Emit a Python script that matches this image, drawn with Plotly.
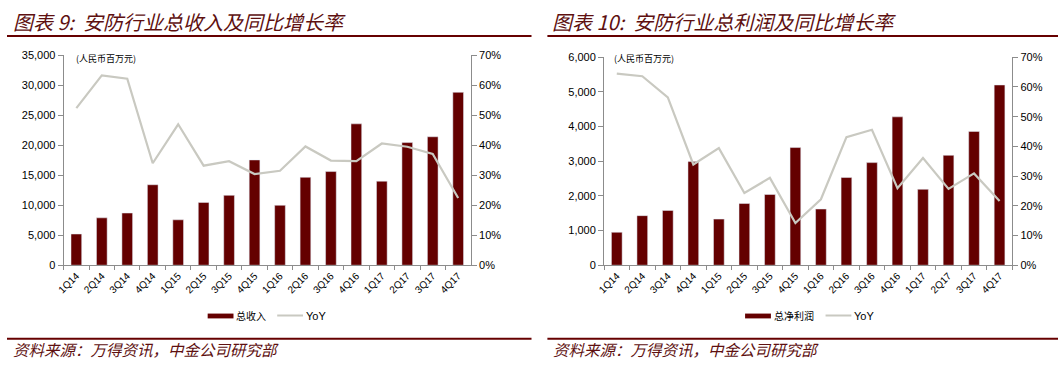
import plotly.graph_objects as go

quarters = ["1Q14", "2Q14", "3Q14", "4Q14", "1Q15", "2Q15", "3Q15", "4Q15",
            "1Q16", "2Q16", "3Q16", "4Q16", "1Q17", "2Q17", "3Q17", "4Q17"]

revenue = [5200, 7900, 8700, 13420, 7570, 10470, 11650, 17550,
           9990, 14660, 15620, 23570, 14010, 20450, 21420, 28830]
revenue_yoy = [52.4, 63.3, 62.2, 34.0, 47.0, 33.2, 34.7, 30.4,
               31.5, 39.6, 34.9, 34.7, 40.6, 39.5, 37.1, 22.4]

profit = [950, 1430, 1580, 2990, 1330, 1780, 2040, 3395,
          1620, 2530, 2960, 4280, 2190, 3170, 3860, 5200]
profit_yoy = [64.5, 63.6, 56.5, 33.9, 39.4, 24.3, 29.4, 14.2,
              22.2, 43.1, 45.6, 25.9, 36.1, 25.7, 30.9, 21.6]

title_left = "图表 9:  安防行业总收入及同比增长率"
title_right = "图表 10:  安防行业总利润及同比增长率"
source_text = "资料来源：万得资讯，中金公司研究部"
unit_text = "(人民币百万元)"
bar_name_left = "总收入"
bar_name_right = "总净利润"
line_name = "YoY"

W, H = 1058, 366
BAR = "#640000"
LINE = "#c9c9c1"
AX = "#8c8c8c"
TXT_FONT = "Liberation Sans, Arial, sans-serif"
CJK = "Noto Sans CJK SC"
TITLE_C = "#5e1010"


def px(x):
    return x / W


def py(y):
    return 1 - y / H


fig = go.Figure()

fig.add_trace(go.Bar(x=quarters, y=revenue, marker_color=BAR, xaxis="x", yaxis="y",
                     showlegend=False, name=bar_name_left))
fig.add_trace(go.Scatter(x=quarters, y=revenue_yoy, mode="lines", line=dict(color=LINE, width=2.2),
                         xaxis="x", yaxis="y2", showlegend=False, name=line_name))
fig.add_trace(go.Bar(x=quarters, y=profit, marker_color=BAR, xaxis="x2", yaxis="y3",
                     showlegend=False, name=bar_name_right))
fig.add_trace(go.Scatter(x=quarters, y=profit_yoy, mode="lines", line=dict(color=LINE, width=2.2),
                         xaxis="x2", yaxis="y4", showlegend=False, name=line_name))

xcommon = dict(type="category", showline=True, linecolor=AX, linewidth=1, ticks="outside",
               tickson="boundaries", ticklen=4, tickcolor=AX, tickangle=-45,
               tickfont=dict(family=TXT_FONT, size=10, color="black"), showgrid=False,
               zeroline=False, fixedrange=True)
ycommon = dict(showline=True, linecolor=AX, linewidth=1, ticks="outside", ticklen=5, tickcolor=AX,
               tickfont=dict(family=TXT_FONT, size=11, color="black"), showgrid=False,
               zeroline=False)

fig.update_layout(
    width=W, height=H,
    margin=dict(l=0, r=0, t=0, b=0),
    paper_bgcolor="white", plot_bgcolor="white",
    bargap=0.58,
    xaxis=dict(domain=[px(57), px(467)], anchor="y", **xcommon),
    yaxis=dict(domain=[py(268), py(51)], range=[0, 35000], dtick=5000, tickformat=",",
               anchor="x", **ycommon),
    yaxis2=dict(range=[0, 70], dtick=10, ticksuffix="%", overlaying="y", side="right",
                anchor="x", **ycommon),
    xaxis2=dict(domain=[px(601), px(1012)], anchor="y3", **xcommon),
    yaxis3=dict(domain=[py(268), py(53)], range=[0, 6000], dtick=1000, tickformat=",",
                anchor="x2", **ycommon),
    yaxis4=dict(range=[0, 70], dtick=10, ticksuffix="%", overlaying="y3", side="right",
                anchor="x2", **ycommon),
    showlegend=False,
)

shapes = []
annotations = []

# header/footer rules
for x0, x1 in [(0, 528), (544, 1058)]:
    for y in (31, 344):
        shapes.append(dict(type="line", xref="paper", yref="paper", x0=px(x0), x1=px(x1),
                           y0=py(y), y1=py(y), line=dict(color="#660000", width=2)))

# titles
for x, t in [(4, title_left), (547, title_right)]:
    annotations.append(dict(text=t, xref="paper", yref="paper", x=px(x), y=py(16),
                            xanchor="left", yanchor="middle", showarrow=False,
                            font=dict(family=CJK, size=20, color=TITLE_C, style="italic")))
# sources
for x in (4, 548):
    annotations.append(dict(text=source_text, xref="paper", yref="paper", x=px(x), y=py(355),
                            xanchor="left", yanchor="middle", showarrow=False,
                            font=dict(family=CJK, size=15.5, color=TITLE_C, style="italic")))
# unit labels
for x in (67, 609):
    annotations.append(dict(text=unit_text, xref="paper", yref="paper", x=px(x), y=py(54),
                            xanchor="left", yanchor="middle", showarrow=False,
                            font=dict(family=CJK, size=9, color="black")))

# legends
def legend(xbar, bar_label, xline):
    shapes.append(dict(type="rect", xref="paper", yref="paper", x0=px(xbar), x1=px(xbar + 26),
                       y0=py(323), y1=py(318), fillcolor=BAR, line=dict(width=0)))
    annotations.append(dict(text=bar_label, xref="paper", yref="paper", x=px(xbar + 27), y=py(320.5),
                            xanchor="left", yanchor="middle", showarrow=False,
                            font=dict(family=CJK, size=10, color="black")))
    shapes.append(dict(type="line", xref="paper", yref="paper", x0=px(xline), x1=px(xline + 26),
                       y0=py(320), y1=py(320), line=dict(color=LINE, width=2)))
    annotations.append(dict(text=line_name, xref="paper", yref="paper", x=px(xline + 27), y=py(320),
                            xanchor="left", yanchor="middle", showarrow=False,
                            font=dict(family=TXT_FONT, size=11, color="black")))

legend(202, bar_name_left, 272)
legend(743, bar_name_right, 824)

fig.update_layout(shapes=shapes, annotations=annotations)
fig.write_html("out.html", config={"displayModeBar": False},
               post_script="document.body.style.margin='0';document.body.style.padding='0';"
                           "document.body.style.overflow='hidden';"
                           "document.documentElement.style.overflow='hidden';")
